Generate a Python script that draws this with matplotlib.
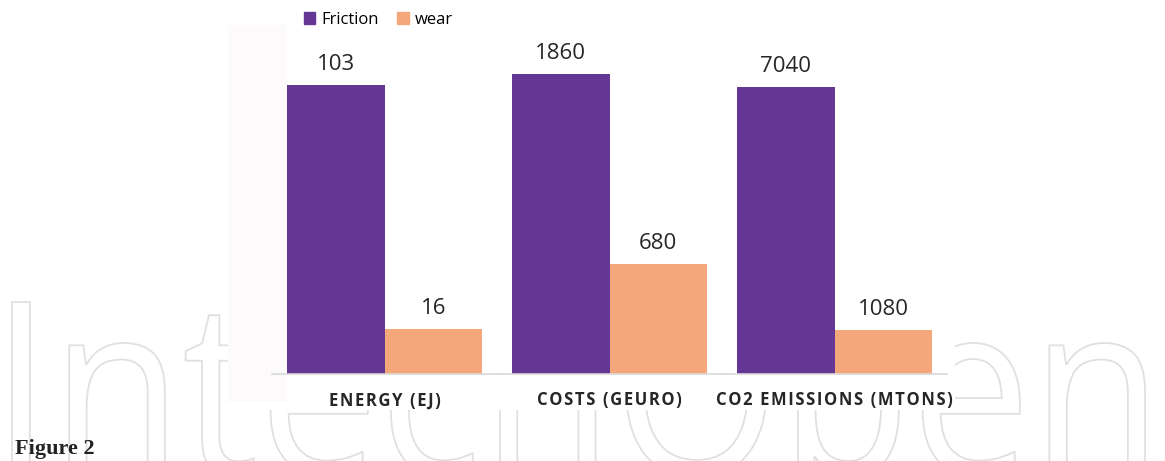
import matplotlib.pyplot as plt
from matplotlib.font_manager import FontProperties
from matplotlib.patches import PathPatch, Rectangle, Patch
from matplotlib.textpath import TextPath
from matplotlib.transforms import Affine2D

categories = ["ENERGY (EJ)", "COSTS (GEURO)", "CO2 EMISSIONS (MTONS)"]
friction = [103, 1860, 7040]
wear = [16, 680, 1080]
# each category has its own value scale
axis_max = [117.6, 2046, 8095]

PURPLE = "#643794"
SALMON = "#F4A77B"
TEXT = "#262626"

W, H = 1165, 461
fig = plt.figure(figsize=(W / 100, H / 100), dpi=100)


def px(x, y, w, h):
    # pixel box (top-left origin) -> figure fraction
    return [x / W, 1 - (y + h) / H, w / W, h / H]


# outlined IntechOpen lettering behind the chart
prop = FontProperties(family="Open Sans")
tp = TextPath((0, 0), "IntechOpen", size=100, prop=prop)
ext = tp.get_extents()
cap = TextPath((0, 0), "I", size=100, prop=prop).get_extents().y1
sx = 1133 / (ext.x1 - ext.x0)
sy = 173 / cap
tr = Affine2D().translate(-ext.x0, 0).scale(sx, sy).translate(12, H - 475).scale(1 / 100)
fig.add_artist(PathPatch(tp, transform=tr + fig.dpi_scale_trans, fill=False,
                         edgecolor="#e0e0e0", lw=1.3, zorder=-3))

# white chart panel and faint strip at its left
fig.add_artist(Rectangle((228 / W, 1 - 410 / H), (955 - 228) / W, 410 / H,
                         transform=fig.transFigure, facecolor="white",
                         edgecolor="none", zorder=-2))
fig.add_artist(Rectangle((228 / W, 1 - 402 / H), (287 - 228) / W, (402 - 25) / H,
                         transform=fig.transFigure, facecolor="#fdfafb",
                         edgecolor="none", zorder=-1))

left, base, cat_w, ax_h = 272, 374, 225, 330
bar_w = 0.433

for i, name in enumerate(categories):
    ax = fig.add_axes(px(left + i * cat_w, base - ax_h, cat_w, ax_h))
    ax.set_facecolor("none")
    ax.bar(-bar_w / 2, friction[i], width=bar_w, color=PURPLE)
    ax.bar(bar_w / 2, wear[i], width=bar_w, color=SALMON)
    ax.set_xlim(-0.5, 0.5)
    ax.set_ylim(0, axis_max[i])
    for xpos, val in [(-bar_w / 2, friction[i]), (bar_w / 2, wear[i])]:
        ax.annotate(str(val), (xpos, val), xytext=(0, 11), textcoords="offset points",
                    ha="center", va="baseline", fontsize=16, color=TEXT,
                    family=["Open Sans", "DejaVu Sans"])
    ax.annotate("\u200a".join(name), (0.5, 0), xycoords="axes fraction",
                xytext=(0, -19), textcoords="offset points", ha="center",
                va="center", fontsize=12, fontweight="bold", color=TEXT,
                family=["Open Sans", "DejaVu Sans"])
    for s in ["top", "left", "right"]:
        ax.spines[s].set_visible(False)
    ax.spines["bottom"].set_color("#d9d9d9")
    ax.spines["bottom"].set_linewidth(1.2)
    ax.set_xticks([])
    ax.set_yticks([])

handles = [Patch(color=PURPLE, label="Friction"), Patch(color=SALMON, label="wear")]
fig.legend(handles=handles, loc="center", bbox_to_anchor=(378 / W, 1 - 20 / H),
           ncol=2, frameon=False, handlelength=0.7, handleheight=0.75,
           handletextpad=0.35, columnspacing=1.1,
           prop=FontProperties(family="Open Sans", size=12))

fig.text(15 / W, 1 - 454 / H, "Figure 2", fontsize=16, fontweight="bold",
         family="Liberation Serif", color="#222222", va="baseline")

fig.savefig("out.png", dpi=100)
